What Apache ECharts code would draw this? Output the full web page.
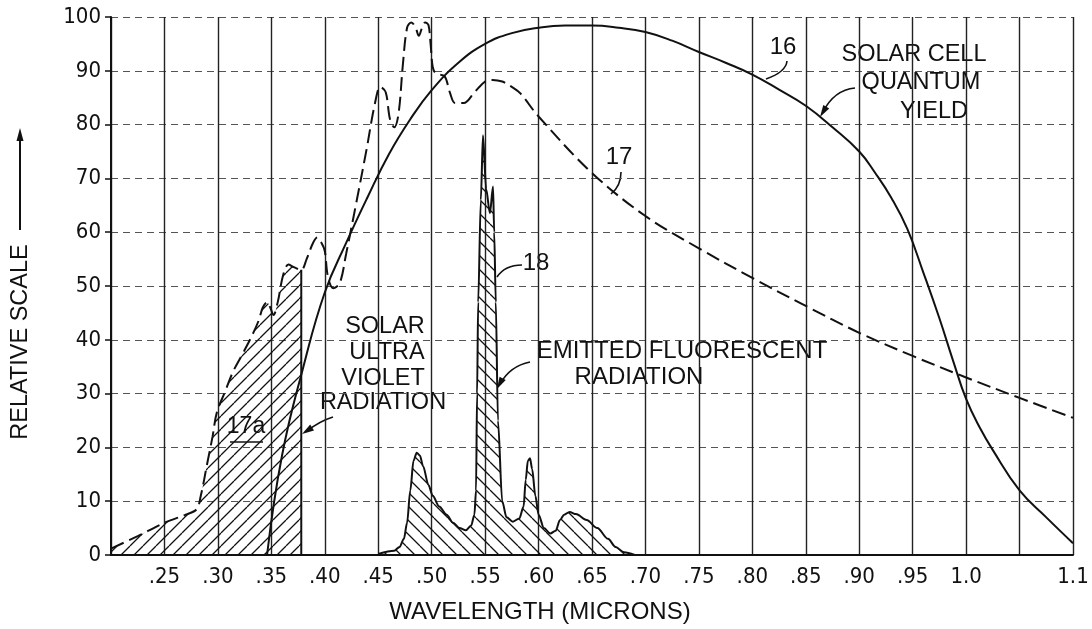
<!DOCTYPE html>
<html><head><meta charset="utf-8">
<script src="https://cdn.jsdelivr.net/npm/echarts@6/dist/echarts.min.js"></script>
<style>html,body{margin:0;padding:0;background:#fff}#c{width:1092px;height:629px}</style>
</head><body><div id="c"></div>
<script>
// ---- tick labels ----
const xTickValues = [0.20,0.25,0.30,0.35,0.40,0.45,0.50,0.55,0.60,0.65,0.70,0.75,0.80,0.85,0.90,0.95,1.00,1.05,1.10];
const xTickLabels = ['','.25','.30','.35','.40','.45','.50','.55','.60','.65','.70','.75','.80','.85','.90','.95','1.0','','1.1'];
const yTickValues = [0,10,20,30,40,50,60,70,80,90,100];

// ---- curve 16: solar cell quantum yield ----
const yieldWl  = [0.346,0.360,0.380,0.400,0.420,0.440,0.460,0.480,0.500,0.525,0.550,0.575,0.600,0.625,0.650,0.675,0.700,0.725,0.750,0.775,0.800,0.825,0.850,0.875,0.900,0.915,0.930,0.945,0.960,0.975,0.988,1.000,1.013,1.025,1.050,1.075,1.100];
const yieldVal = [0,18.5,35,48.8,58,66.5,74.5,81,86.4,91.5,95,97,98,98.4,98.4,98,97.2,95.6,93.5,91.5,89.3,86.5,83.5,79.5,75,71,66.4,60.6,52.5,44,36,29,23.6,19.5,12,7,2.2];

// ---- curve 17: solar spectrum (dashed) ----
const solarWl  = [0.200,0.225,0.250,0.270,0.280,0.284,0.290,0.295,0.299,0.307,0.314,0.322,0.330,0.338,0.342,0.346,0.349,0.352,0.356,0.361,0.366,0.371,0.378,0.383,0.389,0.393,0.397,0.400,0.403,0.408,0.414,0.420,0.430,0.439,0.447,0.452,0.457,0.461,0.465,0.469,0.473,0.477,0.481,0.485,0.488,0.491,0.494,0.497,0.499,0.501,0.504,0.512,0.517,0.522,0.530,0.540,0.550,0.557,0.566,0.575,0.583,0.600,0.650,0.700,0.750,0.800,0.850,0.900,0.950,1.000,1.050,1.100];
const solarVal = [1.2,3.5,6,7.5,8.5,11,17,22,26.5,30.5,34,37,40,43.5,46,47,46,44.6,47,52,54,53.5,53,55,58,59,58,56.5,51.7,49.6,50.5,56,66,75.3,84,87,86,81,79.5,82,91,98,99,98,96.5,98,99,98.5,95,90.7,89.5,89,86,84,84,86,88,88.3,88,87,85.8,81.5,71,63,57,51.5,46.3,41.3,37,33,29.2,25.5];
const uvCutoff = 0.378; // right edge of hatched region 17a

// ---- curve 18: emitted fluorescent radiation ----
const fluorWl  = [0.450,0.465,0.470,0.474,0.477,0.480,0.483,0.486,0.489,0.492,0.497,0.501,0.507,0.514,0.520,0.526,0.532,0.537,0.540,0.5415,0.5425,0.5435,0.546,0.548,0.551,0.5545,0.5574,0.5585,0.560,0.562,0.566,0.570,0.576,0.582,0.586,0.588,0.590,0.592,0.594,0.597,0.600,0.605,0.611,0.616,0.620,0.624,0.629,0.635,0.645,0.655,0.665,0.672,0.680,0.690];
const fluorVal = [0.2,0.8,1.5,3,6,12,17.5,19,18.5,16.5,13,11,9,7.5,6,5,4.6,5.5,7.5,12,30,47,66,78,68,63.5,68.5,60,47,25,10,7,6.2,6.8,9,14,17.5,18,16,11,7.5,5,4,4.5,6.5,7.5,8,7.6,6.5,5,3,1.5,0.5,0];

const zip = (a,b) => a.map((v,i)=>[v,b[i]]);
const yieldData = zip(yieldWl, yieldVal);
const solarData = zip(solarWl, solarVal);
const fluorData = zip(fluorWl, fluorVal);
const uvData = solarData.filter(p => p[0] <= uvCutoff + 1e-9);
const uvEdgeVal = solarVal[solarWl.indexOf(uvCutoff)];
const uvEdge = [[uvCutoff,0],[uvCutoff,uvEdgeVal]];

function hatch(size, dir, w){
  const c = document.createElement('canvas'); c.width = c.height = size;
  const g = c.getContext('2d'); g.strokeStyle = '#111'; g.lineWidth = w; g.beginPath();
  if (dir > 0) { for (const o of [-size, 0, size]) { g.moveTo(o, size); g.lineTo(o+size, 0); } }
  else { for (const o of [-size, 0, size]) { g.moveTo(o, 0); g.lineTo(o+size, size); } }
  g.stroke(); return c;
}

const FONT = '"Liberation Sans", Arial, sans-serif';
const NARROW = '"Liberation Sans Narrow", "DejaVu Sans Condensed", "Arial Narrow", "Liberation Sans", sans-serif';
const INK = '#111';

function txt(x,y,s,size){
  return {type:'text', silent:true, style:{text:s, x:x, y:y, font:(size||23)+'px '+FONT, fill:INK, align:'center', verticalAlign:'middle'}};
}
function curve(p0,cp,p1,w){
  return {type:'bezierCurve', silent:true, shape:{x1:p0[0],y1:p0[1],cpx1:cp[0],cpy1:cp[1],x2:p1[0],y2:p1[1]}, style:{stroke:INK, lineWidth:w||1.5, fill:null}};
}
function head(tip, from, L, W){
  L = L||11; W = W||3.5;
  let dx = tip[0]-from[0], dy = tip[1]-from[1]; const n = Math.hypot(dx,dy); dx/=n; dy/=n;
  const bx = tip[0]-dx*L, by = tip[1]-dy*L;
  return {type:'polygon', silent:true, shape:{points:[tip,[bx-dy*W,by+dx*W],[bx+dy*W,by-dx*W]]}, style:{fill:INK}};
}

const chart = echarts.init(document.getElementById('c'), null, {renderer:'canvas'});
chart.setOption({
  backgroundColor:'#fff',
  animation:false,
  grid:{left:111, right:19, top:17, bottom:74, containLabel:false},
  xAxis:{
    type:'value', min:0.2, max:1.1, interval:0.05,
    axisLine:{show:true, onZero:false, lineStyle:{color:INK, width:2}},
    axisTick:{show:false},
    axisLabel:{margin:11, color:INK, fontSize:22, fontFamily:NARROW,
      formatter:v => { const i = xTickValues.findIndex(t => Math.abs(t-v) < 1e-6); return i>=0 ? xTickLabels[i] : ''; }},
    splitLine:{show:true, lineStyle:{color:'#222', width:1.4}}
  },
  yAxis:{
    type:'value', min:0, max:100, interval:10,
    axisLine:{show:true, lineStyle:{color:INK, width:2}},
    axisTick:{show:true, length:6, lineStyle:{color:INK, width:1.5}},
    axisLabel:{margin:10, color:INK, fontSize:22, fontFamily:NARROW,
      formatter:v => yTickValues.includes(Math.round(v)) ? String(Math.round(v)) : ''},
    splitLine:{show:true, lineStyle:{color:'#555', width:1, type:[7,5]}}
  },
  series:[
    {type:'line', name:'17a', data:uvData, smooth:0.3, symbol:'none', silent:true, z:1,
     lineStyle:{width:0, opacity:0}, areaStyle:{color:{image:hatch(13,1,1.3), repeat:'repeat'}, opacity:1}},
    {type:'line', name:'uvEdge', data:uvEdge, symbol:'none', silent:true, z:3,
     lineStyle:{color:INK, width:2}},
    {type:'line', name:'18', data:fluorData, smooth:0.3, smoothMonotone:'x', symbol:'none', silent:true, z:3,
     lineStyle:{color:INK, width:2}, areaStyle:{color:{image:hatch(14,-1,1.3), repeat:'repeat'}, opacity:1}},
    {type:'line', name:'17', data:solarData, smooth:0.35, symbol:'none', silent:true, z:4,
     lineStyle:{color:INK, width:2, type:[14,6]}},
    {type:'line', name:'16', data:yieldData, smooth:0.45, symbol:'none', silent:true, z:4,
     lineStyle:{color:INK, width:2}}
  ],
  graphic:[
    {type:'text', silent:true, x:21, y:342, rotation:Math.PI/2,
     style:{text:'RELATIVE SCALE', x:0, y:0, font:'23.5px '+FONT, fill:INK, align:'center', verticalAlign:'middle'}},
    {type:'line', silent:true, shape:{x1:20,y1:230,x2:20,y2:138}, style:{stroke:INK, lineWidth:2}},
    head([20,128],[20,230],13,3.5),
    txt(540,612,'WAVELENGTH (MICRONS)',24),
    txt(783,47,'16',24),
    curve([787,61],[786,72],[766,79],1.6),
    txt(914,55,'SOLAR CELL',23.5), txt(921,83,'QUANTUM',23.5), txt(934,112,'YIELD',23.5),
    curve([855,88],[834,90],[823,112],1.6), head([820,117],[831,99],12,3.5),
    txt(619,157,'17',24),
    curve([621,172],[621,186],[611,194],1.6),
    txt(536,263,'18',24),
    curve([522,265],[505,265],[497,277],1.6),
    txt(246,427,'17a',23),
    {type:'line', silent:true, shape:{x1:230,y1:442,x2:263,y2:442}, style:{stroke:INK, lineWidth:1.6}},
    txt(385,327,'SOLAR',23.5), txt(387,353,'ULTRA',23.5), txt(383,379,'VIOLET',23.5), txt(383,403,'RADIATION',23.5),
    curve([333,417],[320,421],[307,431],1.6), head([302,434],[316,425],12,3.5),
    txt(682,351,'EMITTED FLUORESCENT',24), txt(639,377,'RADIATION',24),
    curve([530,362],[510,366],[500,384],1.6), head([497,389],[505,374],12,3.5)
  ]
});
</script></body></html>
